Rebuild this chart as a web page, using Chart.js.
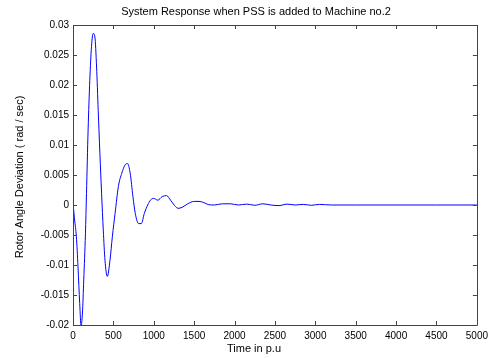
<!DOCTYPE html>
<html>
<head>
<meta charset="utf-8">
<script src="https://cdn.jsdelivr.net/npm/chart.js@4/dist/chart.umd.min.js"></script>
<style>
  html, body { margin: 0; padding: 0; background: #fff; }
  #wrap { width: 493px; height: 358px; }
</style>
</head>
<body>
<div id="wrap"><canvas id="myChart" width="493" height="358"></canvas></div>
<script>
// time samples (p.u) and rotor angle deviation
const timeValues = [0, 8, 20, 42, 62, 83, 100, 117, 133, 154, 167, 187, 208, 229, 250, 271, 292, 312, 333, 354, 375, 396, 425, 458, 487, 521, 562, 604, 646, 675, 708, 742, 771, 812, 846, 883, 925, 958, 1000, 1050, 1104, 1158, 1208, 1258, 1300, 1350, 1420, 1500, 1560, 1620, 1680, 1750, 1850, 1950, 2050, 2150, 2250, 2350, 2450, 2550, 2650, 2750, 2850, 2950, 3050, 3200, 3500, 4000, 4500, 4980, 5000];
const deviationValues = [0, -0.0008, -0.0025, -0.0053, -0.0103, -0.0164, -0.0201, -0.0180, -0.0125, -0.0048, 0.0019, 0.0125, 0.0208, 0.0264, 0.0286, 0.0280, 0.0230, 0.0158, 0.0086, 0.0019, -0.0042, -0.0092, -0.0119, -0.0092, -0.0053, -0.0014, 0.0031, 0.0053, 0.0067, 0.0069, 0.0053, 0.0014, -0.0014, -0.0031, -0.0031, -0.0014, 0, 0.0008, 0.0011, 0.0008, 0.0014, 0.00156, 0.0008, -0.0001, -0.00055, -0.0004, 0.0002, 0.0006, 0.0006, 0.0004, 0.00005, 0, 0.0002, 0.0002, 0, 0.00015, -0.00005, 0.0002, 0, -0.0001, 0.00015, 0, 0.0001, -0.00005, 0.0001, 0, 0, 0, 0, 0, 0];

const xTicks = [0, 500, 1000, 1500, 2000, 2500, 3000, 3500, 4000, 4500, 5000];
const yTicks = [-0.02, -0.015, -0.01, -0.005, 0, 0.005, 0.01, 0.015, 0.02, 0.025, 0.03];

const chartTitle = "System Response when PSS is added to Machine no.2";
const xTitle = "Time in p.u";
const yTitle = "Rotor Angle Deviation ( rad / sec)";

const FONT = "'Liberation Sans', Arial, sans-serif";

// matlab style box, inward ticks and titles
const matlabFrame = {
    id: 'matlabFrame',
    afterDraw(chart) {
        const { ctx, chartArea: a, scales } = chart;
        ctx.save();
        ctx.strokeStyle = '#444';
        ctx.lineWidth = 1;
        ctx.beginPath();
        ctx.rect(Math.round(a.left) + 0.5, Math.round(a.top) + 0.5,
                 Math.round(a.right - a.left), Math.round(a.bottom - a.top));
        xTicks.forEach(v => {
            const px = Math.round(scales.x.getPixelForValue(v)) + 0.5;
            ctx.moveTo(px, a.bottom); ctx.lineTo(px, a.bottom - 4);
            ctx.moveTo(px, a.top); ctx.lineTo(px, a.top + 4);
        });
        yTicks.forEach(v => {
            const py = Math.round(scales.y.getPixelForValue(v)) + 0.5;
            ctx.moveTo(a.left, py); ctx.lineTo(a.left + 4, py);
            ctx.moveTo(a.right, py); ctx.lineTo(a.right - 4, py);
        });
        ctx.stroke();

        ctx.fillStyle = '#000';
        ctx.textAlign = 'center';
        ctx.textBaseline = 'middle';
        ctx.font = '11px ' + FONT;
        ctx.fillText(chartTitle, 256, 12);
        ctx.fillText(xTitle, 254, 349);
        ctx.translate(20, 177);
        ctx.rotate(-Math.PI / 2);
        ctx.fillText(yTitle, 0, 0);
        ctx.restore();
    }
};

const ctx = document.getElementById('myChart').getContext('2d');
new Chart(ctx, {
    type: 'line',
    data: {
        datasets: [{
            data: timeValues.map((t, i) => ({ x: t, y: deviationValues[i] })),
            borderColor: '#0000ff',
            borderWidth: 1,
            pointRadius: 0,
            cubicInterpolationMode: 'monotone',
            fill: false
        }]
    },
    options: {
        responsive: false,
        animation: false,
        devicePixelRatio: 1,
        layout: { padding: { top: 25, right: 14, left: 0, bottom: 0 } },
        plugins: {
            legend: { display: false },
            tooltip: { enabled: false },
            title: { display: false }
        },
        scales: {
            x: {
                type: 'linear',
                min: 0,
                max: 5000,
                afterFit: s => { s.height = 33; },
                afterBuildTicks: s => { s.ticks = xTicks.map(v => ({ value: v })); },
                grid: { display: false, drawTicks: false, tickLength: 0 },
                border: { display: false },
                ticks: {
                    color: '#000',
                    padding: 5,
                    maxRotation: 0,
                    font: { family: FONT, size: 10 },
                    callback: v => String(v)
                }
            },
            y: {
                min: -0.02,
                max: 0.03,
                afterFit: s => { s.width = 73; },
                afterBuildTicks: s => { s.ticks = yTicks.map(v => ({ value: v })); },
                grid: { display: false, drawTicks: false, tickLength: 0 },
                border: { display: false },
                ticks: {
                    color: '#000',
                    padding: 4,
                    font: { family: FONT, size: 10 },
                    callback: v => String(parseFloat(v.toFixed(3)))
                }
            }
        }
    },
    plugins: [matlabFrame]
});
</script>
</body>
</html>
